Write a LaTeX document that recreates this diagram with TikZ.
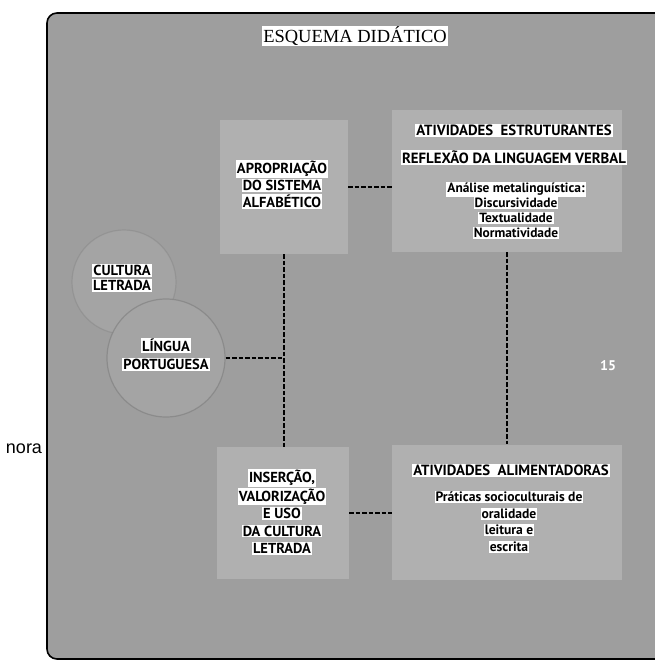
\documentclass[tikz,border=0pt]{standalone}
\usepackage{fontspec}
\setmainfont{Liberation Serif}
\newfontfamily\lblfont{PT Sans}
\newfontfamily\strayfont{Liberation Sans}
\usetikzlibrary{calc}
\definecolor{bggray}{RGB}{158,158,158}
\definecolor{boxgray}{RGB}{176,176,176}
\definecolor{circgray}{RGB}{164,164,164}
\definecolor{ringgray}{RGB}{125,125,125}
\setlength{\fboxsep}{1pt}
\newcommand\hlx[1]{\colorbox{white}{#1}}
\tikzset{
  lbl/.style={font=\lblfont\bfseries, align=center, inner sep=0pt, anchor=north},
  area/.style={fill=boxgray, draw=none, inner sep=0pt},
  ring/.style={circle, fill=circgray, draw=ringgray, line width=1.2pt, draw opacity=0.6, inner sep=0pt},
  conn/.style={line width=2.6pt, dash pattern=on 4.5pt off 2pt}
}
\begin{document}
\begin{tikzpicture}[x=1pt,y=-1pt]
\useasboundingbox (0,0) rectangle (655,661);
\begin{scope}
\clip (0,0) rectangle (655,661);
\draw[line width=1.6pt, rounded corners=10pt, fill=bggray] (47,13) rectangle (672,659);
\end{scope}
% title
\node[font=\fontsize{18.5}{21}\selectfont, fill=white, inner sep=1pt] (title) at (355,36) {ESQUEMA DIDÁTICO};
% areas
\node[area, minimum width=128pt, minimum height=134pt] (b1) at (284,187) {};
\node[area, minimum width=230pt, minimum height=142pt] (b2) at (507,181) {};
\node[area, minimum width=132pt, minimum height=132pt] (b3) at (283,513) {};
\node[area, minimum width=230pt, minimum height=135pt] (b4) at (507,512) {};
% circles
\node[ring, minimum size=104pt, draw opacity=0.35] (cl) at (124,282) {};
\node[ring, minimum size=118pt] (lp) at (166,358) {};
% connectors
\draw[conn] (b1.east) -- (b1.east -| b2.west);
\draw[conn] (b1.south) -- (b1.south |- b3.north);
\draw[conn] (b2.south) -- (b2.south |- b4.north);
\draw[conn] (lp.east) -- (lp.east -| b1.south);
\draw[conn] (b3.east) -- (b3.east -| b4.west);
% texts
\node[lbl, font=\lblfont\bfseries\fontsize{14.5}{17}\selectfont] (t1) at (282,160)
  {\hlx{APROPRIAÇÃO}\\\hlx{DO SISTEMA}\\\hlx{ALFABÉTICO}};
\node[lbl, font=\lblfont\bfseries\fontsize{14.8}{17}\selectfont] (t2a) at (514,124)
  {\hlx{ATIVIDADES\ \ ESTRUTURANTES}\\[11pt]\hlx{REFLEXÃO DA LINGUAGEM VERBAL}};
\node[lbl, font=\lblfont\bfseries\fontsize{13.4}{15}\selectfont] (t2b) at (516,182)
  {\hlx{Análise metalinguística:}\\\hlx{Discursividade}\\\hlx{Textualidade}\\\hlx{Normatividade}};
\node[lbl, font=\lblfont\bfseries\fontsize{14.5}{17.5}\selectfont] (t3) at (282,469)
  {\hlx{INSERÇÃO,}\\\hlx{VALORIZAÇÃO}\\\hlx{E USO}\\\hlx{DA CULTURA}\\\hlx{LETRADA}};
\node[lbl, font=\lblfont\bfseries\fontsize{14.8}{17}\selectfont] (t4a) at (511,464)
  {\hlx{ATIVIDADES\ \ ALIMENTADORAS}};
\node[lbl, font=\lblfont\bfseries\fontsize{13.6}{16.5}\selectfont] (t4b) at (509,491)
  {\hlx{Práticas socioculturais de}\\\hlx{oralidade}\\\hlx{leitura e}\\\hlx{escrita}};
\node[lbl, font=\lblfont\bfseries\fontsize{14.5}{15}\selectfont] (tcl) at (122,264)
  {\hlx{CULTURA}\\\hlx{LETRADA}};
\node[lbl, font=\lblfont\bfseries\fontsize{14.5}{18}\selectfont] (tlp) at (166,338)
  {\hlx{LÍNGUA}\\\hlx{PORTUGUESA}};
% stray page texts
\node[font=\strayfont\fontsize{18}{20}\selectfont, inner sep=0pt] (nora) at (24,449) {nora};
\node[font=\lblfont\bfseries\fontsize{14}{16}\selectfont, text=white, inner sep=0pt] (pg) at (608,366) {15};
\end{tikzpicture}
\end{document}
